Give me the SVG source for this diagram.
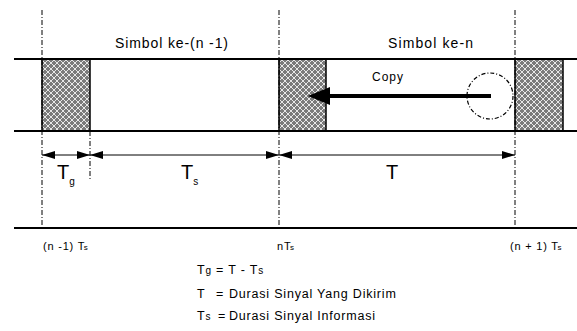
<svg xmlns="http://www.w3.org/2000/svg" width="577" height="331" viewBox="0 0 577 331">
<style>
text{font-family:"Liberation Sans",Arial,sans-serif;fill:#000}
.band{stroke:#000;stroke-width:2;fill:none}
.vdash{stroke:#000;stroke-width:1;stroke-dasharray:5 2 1 2;fill:none}
.gi{fill:url(#hatch);stroke:#000;stroke-width:1.5}
.dim{stroke:#000;stroke-width:1;fill:none;marker-start:url(#ah);marker-end:url(#ah)}
.big{font-size:20px}
.sub{font-size:10px}
.lab{font-size:11px;letter-spacing:0.8px}
.eq{font-size:12.5px;letter-spacing:0.8px}
</style>
<defs>
<pattern id="hatch" width="6" height="6" patternUnits="userSpaceOnUse">
<rect width="6" height="6" fill="#7a7a7a"/>
<path d="M0,0 L6,6 M6,0 L0,6" stroke="#e6e6e6" stroke-width="1"/>
</pattern>
<marker id="ah" markerWidth="13" markerHeight="8" refX="13" refY="4" orient="auto-start-reverse" markerUnits="userSpaceOnUse">
<path d="M0,0 L13,4 L0,8 z" fill="#000"/>
</marker>
</defs>

<g id="guard-intervals">
<rect class="gi" x="42" y="59" width="48" height="72"/>
<rect class="gi" x="279" y="59" width="47" height="72"/>
<rect class="gi" x="515" y="59" width="48" height="72"/>
</g>

<g id="band-lines">
<line class="band" x1="14" y1="59" x2="577" y2="59"/>
<line class="band" x1="14" y1="131" x2="577" y2="131"/>
<line class="band" x1="14" y1="228" x2="577" y2="228"/>
</g>

<g id="boundaries">
<line class="vdash" x1="42" y1="10" x2="42" y2="230"/>
<line class="vdash" x1="279" y1="10" x2="279" y2="230"/>
<line class="vdash" x1="515" y1="10" x2="515" y2="230"/>
<line class="vdash" x1="90" y1="131" x2="90" y2="181"/>
</g>

<g id="symbol-prev"><text x="115" y="48" font-size="14" textLength="113" lengthAdjust="spacing">Simbol ke-(n -1)</text></g>
<g id="symbol-n"><text x="388" y="48" font-size="14" textLength="85" lengthAdjust="spacing">Simbol ke-n</text></g>

<g id="copy-circle">
<circle cx="490" cy="96" r="23" fill="none" stroke="#000" stroke-width="1.2" stroke-dasharray="4 2 1 2"/>
</g>

<g id="connectors">
<line x1="491" y1="96" x2="328" y2="96" stroke="#000" stroke-width="4"/>
<polygon points="308,96 330,87 330,105" fill="#000"/>
<line class="dim" x1="42" y1="155" x2="90" y2="155"/>
<line class="dim" x1="90" y1="155" x2="279" y2="155"/>
<line class="dim" x1="279" y1="155" x2="515" y2="155"/>
</g>

<g id="copy-label"><text x="372" y="81" font-size="12" textLength="31" lengthAdjust="spacing">Copy</text></g>

<g id="dim-tg"><text x="57" y="179" class="big">T<tspan class="sub" dy="6">g</tspan></text></g>
<g id="dim-ts"><text x="181" y="179" class="big">T<tspan class="sub" dy="6">s</tspan></text></g>
<g id="dim-t"><text x="386" y="179" class="big">T</text></g>

<g id="time-labels">
<text x="43" y="250" class="lab">(n -1) T<tspan font-size="8" dx="-1.5">s</tspan></text>
<text x="277" y="250" class="lab">nT<tspan font-size="8" dx="-1.5">s</tspan></text>
<text x="510" y="250" class="lab">(n + 1) T<tspan font-size="8" dx="-1.5">s</tspan></text>
</g>

<g id="legend">
<text x="197" y="274" class="eq">T<tspan font-size="10">g</tspan> = T - T<tspan font-size="10">s</tspan></text>
<text x="197" y="298" class="eq">T<tspan x="216">=</tspan><tspan x="229">Durasi Sinyal Yang Dikirim</tspan></text>
<text x="197" y="320" class="eq">T<tspan font-size="10">s</tspan><tspan x="218">=</tspan><tspan x="229">Durasi Sinyal Informasi</tspan></text>
</g>
</svg>
